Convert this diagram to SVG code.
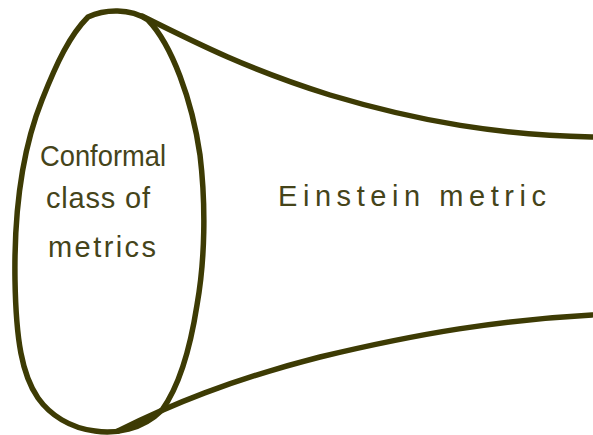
<svg xmlns="http://www.w3.org/2000/svg" width="593" height="435" viewBox="0 0 593 435">
<style>
.ln{fill:none;stroke:#3d3b04;stroke-width:5.5;stroke-linecap:round;stroke-linejoin:round}
.tx{font-family:"Liberation Sans","DejaVu Sans",sans-serif;font-size:29px;fill:#45441a}
</style>
<rect width="593" height="435" fill="#ffffff"/>
<g id="connectors">
<path class="ln" d="M 142,16 C 200,45 250,70 330,95 C 420,122 500,135 592,137"/>
<path class="ln" d="M 118,431 C 170,405 230,380 320,357 C 420,333 500,320 592,315"/>
</g>
<g id="conformal-class">
<path class="ln" d="M 88,17 C 105,9 130,8 148,20 C 172,45 192,100 200,155 C 206,205 205,260 197,305 C 190,350 180,385 162,410 C 142,430 115,434 95,431 C 70,428 50,415 38,398 C 22,375 16,340 15,280 C 14,215 22,150 42,100 C 57,62 70,35 88,17 Z"/>
<text class="tx" x="40" y="166" textLength="126" lengthAdjust="spacingAndGlyphs">Conformal</text>
<text class="tx" x="46" y="208" textLength="104" lengthAdjust="spacing">class of</text>
<text class="tx" x="48" y="257" textLength="108" lengthAdjust="spacing">metrics</text>
</g>
<g id="einstein-metric">
<text class="tx" x="278" y="206" textLength="268" lengthAdjust="spacing">Einstein metric</text>
</g>
</svg>
